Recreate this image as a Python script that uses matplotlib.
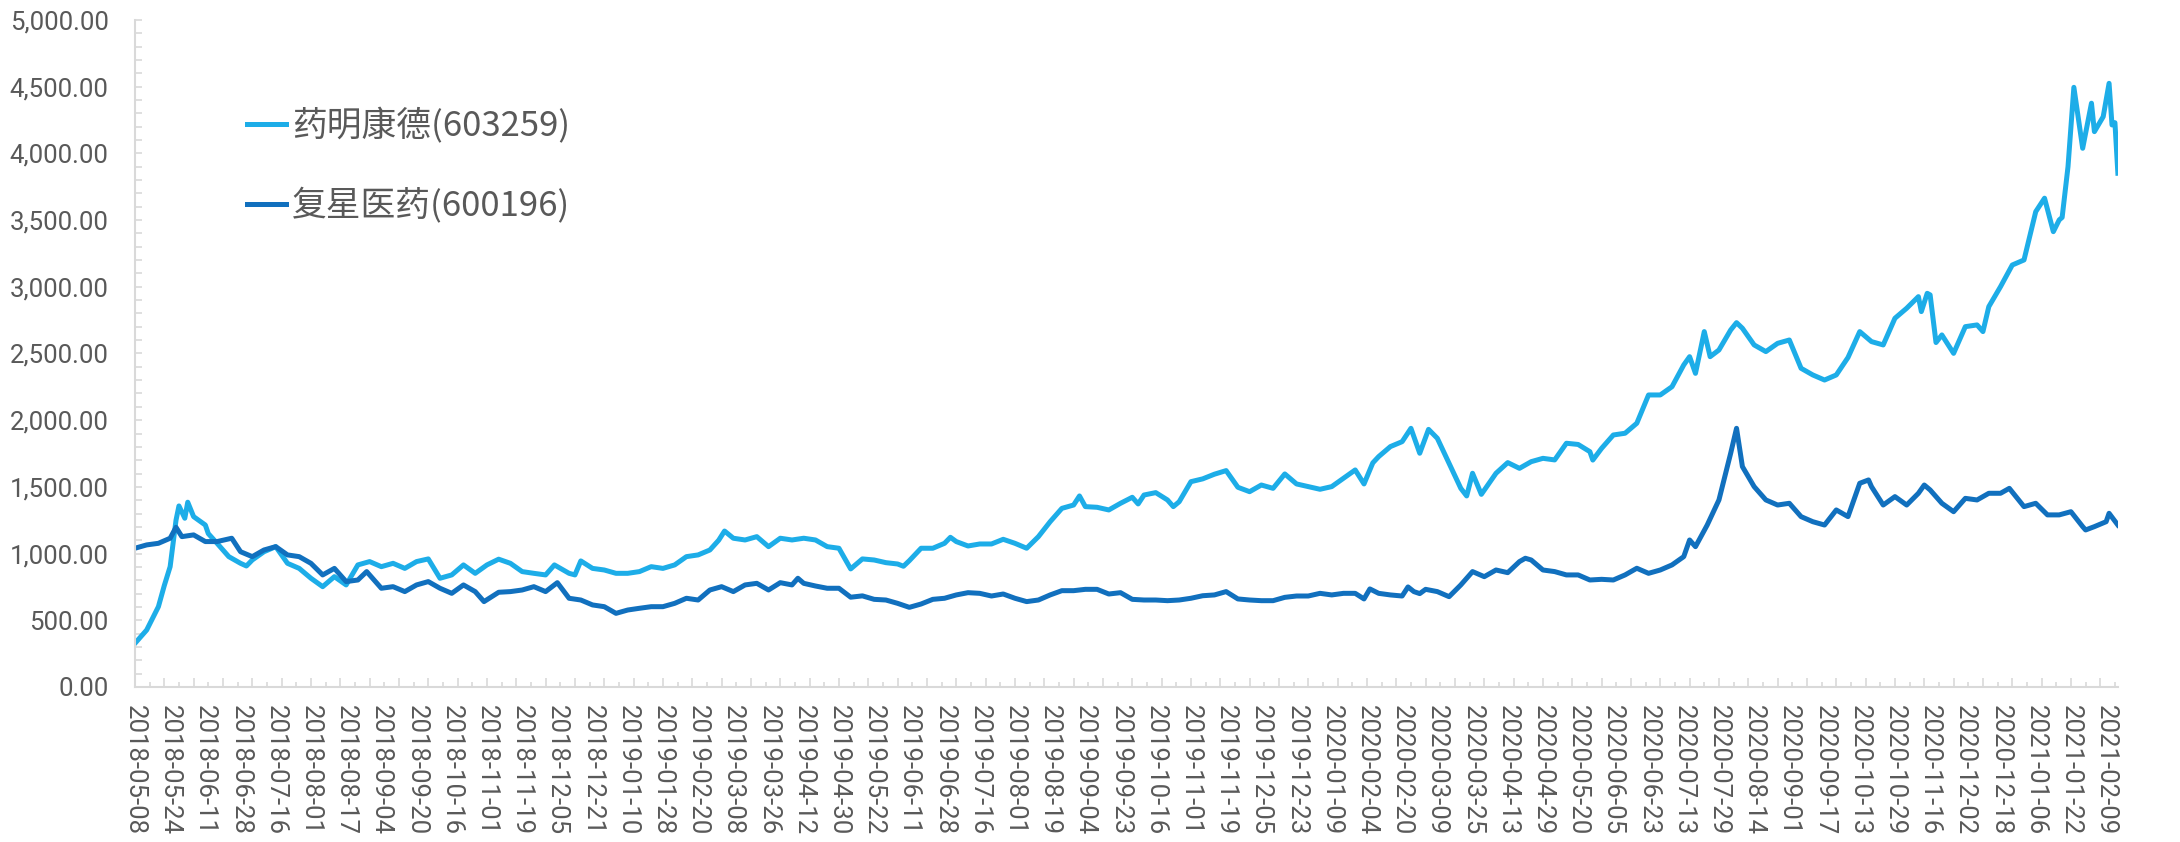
import matplotlib
matplotlib.use("Agg")
import matplotlib.pyplot as plt
from matplotlib.ticker import MultipleLocator, FuncFormatter

# 交易日序号 (从 2018-05-08 起) 与收盘价位
lb_name = "药明康德(603259)"
lb_day = [0, 2, 4, 6, 8, 10, 12, 13, 14, 15, 17, 18, 20, 24, 25, 28, 32, 36, 38, 40,
          44, 48, 52, 56, 60, 64, 68, 72, 76, 80, 84, 88, 92, 96, 100, 104, 108, 112, 116, 120,
          124, 128, 132, 136, 140, 143, 148, 150, 152, 156, 160, 164, 168, 172, 176, 180, 184, 188, 192, 196,
          199, 201, 204, 208, 212, 216, 220, 224, 228, 232, 236, 240, 244, 248, 252, 256, 260, 262, 264, 268,
          272, 276, 278, 280, 284, 288, 292, 296, 300, 304, 308, 312, 316, 320, 322, 324, 328, 332, 336, 340,
          342, 344, 348, 352, 354, 356, 360, 364, 368, 372, 376, 380, 384, 388, 392, 396, 400, 404, 408, 412,
          416, 419, 422, 424, 428, 432, 435, 438, 441, 444, 448, 452, 454, 456, 459, 464, 468, 472, 476, 480,
          484, 488, 492, 496, 497, 500, 504, 508, 512, 516, 520, 524, 528, 530, 532, 535, 537, 540, 544, 546,
          548, 552, 556, 560, 564, 568, 572, 576, 580, 584, 588, 592, 596, 600, 604, 608, 609, 611, 612, 614,
          616, 620, 624, 628, 630, 632, 636, 640, 644, 648, 651, 654, 656, 657, 659, 661, 664, 667, 668, 670,
          671, 673, 674, 675, 676]
lb_val = [327, 377, 427, 515, 602, 760, 902, 1077, 1250, 1357, 1265, 1385, 1277, 1214, 1150, 1077, 977, 927, 907, 952,
          1014, 1052, 927, 889, 815, 752, 827, 765, 915, 940, 902, 927, 889, 940, 960, 815, 840, 915, 852, 915,
          958, 927, 865, 852, 840, 915, 852, 840, 945, 889, 877, 852, 852, 865, 902, 889, 915, 977, 990, 1027,
          1100, 1169, 1115, 1102, 1127, 1052, 1115, 1102, 1115, 1102, 1052, 1040, 885, 960, 952, 932, 922, 905, 947, 1040,
          1040, 1077, 1122, 1090, 1057, 1072, 1072, 1107, 1077, 1040, 1127, 1239, 1339, 1364, 1432, 1352, 1347, 1327, 1377, 1422,
          1372, 1439, 1457, 1402, 1352, 1389, 1539, 1560, 1595, 1622, 1497, 1464, 1514, 1489, 1597, 1522, 1502, 1482, 1502, 1564,
          1627, 1522, 1680, 1727, 1802, 1839, 1939, 1752, 1931, 1864, 1677, 1489, 1432, 1602, 1444, 1602, 1682, 1639, 1689, 1714,
          1702, 1827, 1818, 1764, 1701, 1789, 1889, 1902, 1977, 2189, 2189, 2251, 2414, 2476, 2351, 2664, 2476, 2526, 2676, 2731,
          2689, 2564, 2514, 2576, 2601, 2389, 2339, 2301, 2339, 2470, 2664, 2589, 2564, 2764, 2839, 2926, 2814, 2951, 2939, 2582,
          2639, 2501, 2701, 2714, 2664, 2851, 3001, 3163, 3201, 3563, 3664, 3413, 3501, 3520, 3900, 4495, 4038, 4376, 4163, 4238,
          4275, 4525, 4213, 4230, 3851]

db_name = "复星医药(600196)"
db_day = [0, 4, 8, 12, 14, 16, 20, 24, 28, 33, 36, 40, 44, 48, 52, 56, 60, 64, 68, 72,
          76, 79, 84, 88, 92, 96, 100, 104, 108, 112, 116, 119, 124, 128, 132, 136, 140, 144, 148, 152,
          156, 160, 164, 168, 172, 176, 180, 184, 188, 192, 196, 200, 204, 208, 212, 216, 220, 224, 226, 228,
          232, 236, 240, 244, 248, 252, 256, 260, 264, 268, 272, 276, 280, 284, 288, 292, 296, 300, 304, 308,
          312, 316, 320, 324, 328, 332, 336, 340, 344, 348, 352, 356, 360, 364, 368, 372, 376, 380, 384, 388,
          392, 396, 400, 404, 408, 412, 416, 419, 421, 424, 428, 432, 434, 436, 438, 440, 444, 448, 452, 456,
          460, 464, 468, 472, 474, 476, 480, 484, 488, 492, 496, 500, 504, 508, 512, 516, 520, 524, 528, 530,
          532, 536, 540, 544, 546, 548, 552, 556, 560, 564, 568, 572, 576, 580, 584, 588, 591, 592, 596, 600,
          604, 608, 610, 612, 616, 620, 624, 628, 632, 636, 639, 644, 648, 652, 656, 660, 664, 665, 668, 672,
          673, 676]
db_val = [1040, 1065, 1077, 1115, 1197, 1127, 1140, 1090, 1090, 1115, 1014, 977, 1027, 1052, 990, 977, 927, 840, 889, 790,
          802, 865, 740, 752, 715, 765, 790, 740, 702, 765, 715, 640, 710, 715, 727, 752, 715, 782, 665, 652,
          615, 602, 552, 577, 590, 602, 602, 627, 665, 652, 727, 752, 715, 765, 777, 727, 782, 765, 815, 777,
          757, 740, 740, 673, 683, 657, 652, 627, 597, 622, 657, 665, 690, 707, 702, 682, 697, 665, 640, 652,
          690, 722, 722, 732, 732, 697, 707, 657, 652, 652, 647, 652, 665, 684, 690, 715, 660, 652, 647, 647,
          672, 682, 682, 702, 690, 702, 702, 660, 735, 702, 690, 682, 750, 715, 700, 732, 715, 677, 765, 865,
          827, 877, 857, 940, 965, 952, 877, 865, 840, 840, 802, 807, 802, 840, 890, 852, 877, 915, 977, 1102,
          1052, 1214, 1402, 1752, 1939, 1652, 1502, 1402, 1364, 1377, 1277, 1239, 1214, 1327, 1277, 1527, 1552, 1502, 1364, 1427,
          1364, 1452, 1514, 1477, 1377, 1314, 1414, 1402, 1452, 1452, 1489, 1352, 1377, 1290, 1290, 1314, 1202, 1177, 1202, 1239,
          1302, 1214]

# 横轴标签 (每 12 个交易日一个)
date_labels = ["2018-05-08", "2018-05-24", "2018-06-11", "2018-06-28", "2018-07-16", "2018-08-01",
               "2018-08-17", "2018-09-04", "2018-09-20", "2018-10-16", "2018-11-01", "2018-11-19",
               "2018-12-05", "2018-12-21", "2019-01-10", "2019-01-28", "2019-02-20", "2019-03-08",
               "2019-03-26", "2019-04-12", "2019-04-30", "2019-05-22", "2019-06-11", "2019-06-28",
               "2019-07-16", "2019-08-01", "2019-08-19", "2019-09-04", "2019-09-23", "2019-10-16",
               "2019-11-01", "2019-11-19", "2019-12-05", "2019-12-23", "2020-01-09", "2020-02-04",
               "2020-02-20", "2020-03-09", "2020-03-25", "2020-04-13", "2020-04-29", "2020-05-20",
               "2020-06-05", "2020-06-23", "2020-07-13", "2020-07-29", "2020-08-14", "2020-09-01",
               "2020-09-17", "2020-10-13", "2020-10-29", "2020-11-16", "2020-12-02", "2020-12-18",
               "2021-01-06", "2021-01-22", "2021-02-09"]
label_step = 12
last_day = 676

gray = "#D9D9D9"
txt = "#595959"

fig = plt.figure(figsize=(21.8, 8.42), dpi=100)
ax = fig.add_axes([0.0619, 0.1841, 0.9096, 0.7922])

ax.plot(lb_day, lb_val, color="#1DADE8", lw=3.6, solid_joinstyle="round", label=lb_name)
ax.plot(db_day, db_val, color="#1170BE", lw=3.6, solid_joinstyle="round", label=db_name)

ax.set_xlim(0, last_day)
ax.set_ylim(0, 5000)

for s in ["top", "right"]:
    ax.spines[s].set_visible(False)
for s in ["left", "bottom"]:
    ax.spines[s].set_color(gray)
    ax.spines[s].set_linewidth(1.5)

# y 轴
ax.yaxis.set_major_locator(MultipleLocator(500))
ax.yaxis.set_minor_locator(MultipleLocator(100))
ax.yaxis.set_major_formatter(FuncFormatter(lambda v, p: f"{v:,.2f}"))
ax.tick_params(axis="y", which="both", direction="in", length=5, width=1.2, color=gray,
               labelsize=18.5, labelcolor=txt, pad=19)

# x 轴: 标签每 12 天, 刻度线另画
ax.set_xticks(range(0, len(date_labels) * label_step, label_step))
ax.set_xticklabels(date_labels, rotation=-90, ha="center", va="top")
ax.tick_params(axis="x", which="major", length=0, labelsize=18.5, labelcolor=txt, pad=13)

sec = ax.secondary_xaxis("bottom")
sec.xaxis.set_major_locator(MultipleLocator(10))
sec.xaxis.set_minor_locator(MultipleLocator(5))
sec.tick_params(which="major", direction="in", length=6.5, width=1.2, color=gray, labelbottom=False)
sec.tick_params(which="minor", direction="in", length=3.6, width=1.2, color=gray)
sec.spines["bottom"].set_visible(False)

for lbl in ax.get_xticklabels() + ax.get_yticklabels():
    lbl.set_family("Roboto")

leg = ax.legend(loc="upper left", bbox_to_anchor=(0.1133, 0.872), bbox_transform=fig.transFigure,
                frameon=False, borderpad=0, borderaxespad=0, handlelength=1.12, handletextpad=0.17,
                labelspacing=1.27, prop={"family": ["Noto Sans CJK SC", "DejaVu Sans"], "size": 25})
for t in leg.get_texts():
    t.set_color(txt)

fig.savefig("out.png", dpi=100)
